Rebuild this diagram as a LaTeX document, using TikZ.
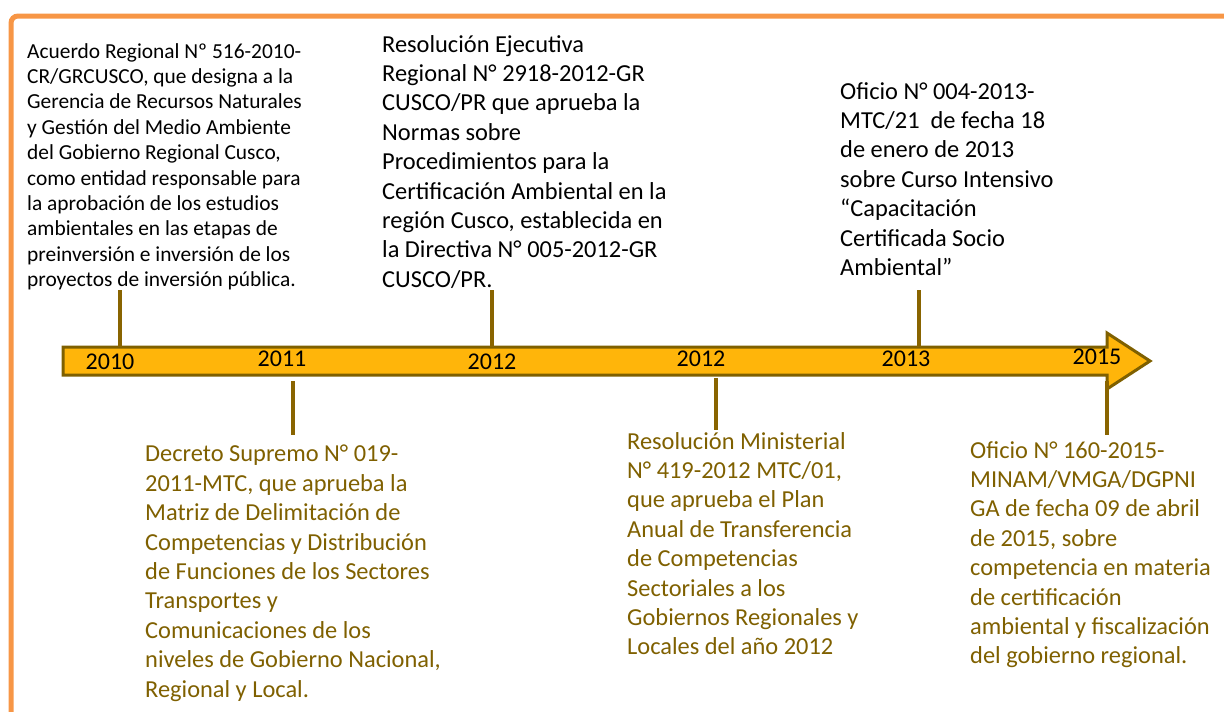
\documentclass[tikz,border=0pt]{standalone}
\usepackage{fontspec}
\setmainfont{Carlito}
\usepackage{tikz}
\usetikzlibrary{positioning}

\definecolor{marco}{RGB}{247,150,70}
\definecolor{barra}{RGB}{255,181,10}
\definecolor{pardo}{RGB}{127,96,0}
\definecolor{trazo}{RGB}{137,100,0}

\begin{document}
\begin{tikzpicture}[x=1pt, y=-1pt,
	evento/.style={anchor=north west, inner sep=0pt, align=left, font=\fontsize{24.4}{29.4}\selectfont},
	evento chico/.style={evento, font=\fontsize{21.4}{25.4}\selectfont},
	abajo/.style={evento, text=pardo},
	anio/.style={inner sep=0pt, font=\fontsize{24}{24}\selectfont},
	hito/.style={draw=trazo, line width=4pt},]
\useasboundingbox (0,0) rectangle (1224,712);
% marco
\draw[marco, line width=5pt, rounded corners=7pt] (11,712) -- (11,16) -- (1230,16);
% barra de tiempo
\draw[pardo, line width=3pt, fill=barra] (63,347) -- (1107,347) -- (1107,333) -- (1150,361)
	-- (1107,389) -- (1107,375) -- (63,375) -- cycle;
\node[anio] (a2010) at (110,362) {2010};
\node[anio] (a2011) at (282,359) {2011};
\node[anio] (a2012) at (492,362) {2012};
\node[anio] (b2012) at (701,359) {2012};
\node[anio] (a2013) at (906,359) {2013};
\node[anio] (a2015) at (1097,357) {2015};
% eventos arriba
\node[evento chico] (acuerdo) at (27,43) {Acuerdo Regional Nº 516-2010-\\CR/GRCUSCO, que designa a la\\Gerencia de Recursos Naturales\\y Gestión del Medio Ambiente\\del Gobierno Regional Cusco,\\como entidad responsable para\\la aprobación de los estudios\\ambientales en las etapas de\\preinversión e inversión de los\\proyectos de inversión pública.};
\node[evento] (resolucion) at (382,35) {Resolución Ejecutiva\\Regional N° 2918-2012-GR\\CUSCO/PR que aprueba la\\Normas sobre\\Procedimientos para la\\Certificación Ambiental en la\\región Cusco, establecida en\\la Directiva N° 005-2012-GR\\CUSCO/PR.};
\node[evento] (oficio) at (840,82) {Oficio N° 004-2013-\\MTC/21\ \ de fecha 18\\de enero de 2013\\sobre Curso Intensivo\\“Capacitación\\Certificada Socio\\Ambiental”};
% eventos abajo
\node[abajo] (decreto) at (145,445) {Decreto Supremo N° 019-\\2011-MTC, que aprueba la\\Matriz de Delimitación de\\Competencias y Distribución\\de Funciones de los Sectores\\Transportes y\\Comunicaciones de los\\niveles de Gobierno Nacional,\\Regional y Local.};
\node[abajo] (ministerial) at (627,432) {Resolución Ministerial\\N° 419-2012 MTC/01,\\que aprueba el Plan\\Anual de Transferencia\\de Competencias\\Sectoriales a los\\Gobiernos Regionales y\\Locales del año 2012};
\node[abajo] (oficio2) at (970,441) {Oficio N° 160-2015-\\MINAM/VMGA/DGPNI\\GA de fecha 09 de abril\\de 2015, sobre\\competencia en materia\\de certificación\\ambiental y fiscalización\\del gobierno regional.};
% hitos
\coordinate (h1) at (120,290); \coordinate (h1b) at (120,347);
\coordinate (h2) at (492,290); \coordinate (h2b) at (492,347);
\coordinate (h3) at (919,290); \coordinate (h3b) at (919,347);
\coordinate (h4) at (293,381); \coordinate (h4b) at (293,435);
\coordinate (h5) at (716,378); \coordinate (h5b) at (716,430);
\coordinate (h6) at (1107,381); \coordinate (h6b) at (1107,435);
\foreach \i in {1,...,6}
	\draw[hito] (h\i) -- (h\i b);
\end{tikzpicture}
\end{document}
